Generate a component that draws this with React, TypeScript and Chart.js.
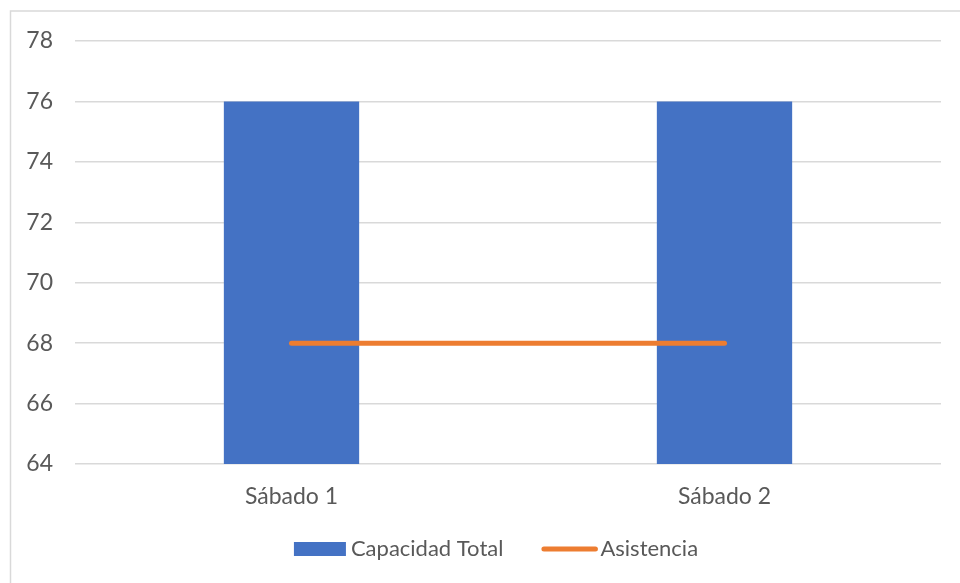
import React, { useEffect, useRef } from "react";
import { Chart, registerables } from "chart.js";

Chart.register(...registerables);

const categories = ["Sábado 1", "Sábado 2"];
const capacidadTotal = [76, 76];
const asistencia = [68, 68];
const yTicks = [64, 66, 68, 70, 72, 74, 76, 78];

const FONT = "Lato, 'Open Sans', sans-serif";
const TEXT_COLOR = "#595959";
const BLUE = "#4472C4";
const ORANGE = "#ED7D31";
const GRID = "#D9D9D9";

// Outer frame of the chart object
const framePlugin = {
  id: "frame",
  beforeDraw(chart: any) {
    const { ctx } = chart;
    ctx.save();
    ctx.fillStyle = "#ffffff";
    ctx.fillRect(0, 0, chart.width, chart.height);
    ctx.strokeStyle = GRID;
    ctx.lineWidth = 1.5;
    ctx.strokeRect(10.5, 11, chart.width + 20, chart.height + 20);
    ctx.restore();
  },
};

// Bottom legend: filled box for the bars, rounded stroke for the line
const legendPlugin = {
  id: "customLegend",
  afterDraw(chart: any) {
    const { ctx } = chart;
    const items = chart.data.datasets.map((ds: any) => ({
      label: ds.label,
      color: ds.type === "line" ? ds.borderColor : ds.backgroundColor,
      isLine: ds.type === "line",
    }));
    ctx.save();
    ctx.font = `22px ${FONT}`;
    ctx.textBaseline = "middle";
    const symW = 52;
    const spacing = 38;
    const gapOf = (it: any) => (it.isLine ? 7 : 5);
    const widths = items.map((it: any) => symW + gapOf(it) + ctx.measureText(it.label).width);
    const total = widths.reduce((a: number, b: number) => a + b, 0) + spacing * (items.length - 1);
    const cy = 549;
    let x = 496 - total / 2;
    items.forEach((it: any, i: number) => {
      if (it.isLine) {
        ctx.strokeStyle = it.color;
        ctx.lineWidth = 5;
        ctx.lineCap = "round";
        ctx.beginPath();
        ctx.moveTo(x + 2.5, cy);
        ctx.lineTo(x + symW + 2, cy);
        ctx.stroke();
      } else {
        ctx.fillStyle = it.color;
        ctx.fillRect(x, cy - 7, symW, 14);
      }
      ctx.fillStyle = TEXT_COLOR;
      ctx.textAlign = "left";
      ctx.fillText(it.label, x + symW + gapOf(it), cy);
      x += widths[i] + spacing;
    });
    ctx.restore();
  },
};

export default function App() {
  const ref = useRef<HTMLCanvasElement | null>(null);

  useEffect(() => {
    if (!ref.current) return;
    const chart = new Chart(ref.current, {
      type: "bar",
      data: {
        labels: categories,
        datasets: [
          {
            type: "bar",
            label: "Capacidad Total",
            data: capacidadTotal,
            backgroundColor: BLUE,
            borderWidth: 0,
            barPercentage: 0.625,
            categoryPercentage: 0.5,
            order: 1,
          } as any,
          {
            type: "line",
            label: "Asistencia",
            data: asistencia,
            borderColor: ORANGE,
            backgroundColor: ORANGE,
            borderWidth: 5,
            borderCapStyle: "round",
            pointRadius: 0,
            pointHoverRadius: 0,
            tension: 0,
            order: 0,
          } as any,
        ],
      },
      options: {
        animation: false,
        responsive: false,
        maintainAspectRatio: false,
        devicePixelRatio: 1,
        layout: { padding: { top: 41, right: 19, bottom: 0, left: 0 } },
        plugins: {
          legend: { display: false },
          tooltip: { enabled: false },
        },
        scales: {
          x: {
            grid: { display: false, drawTicks: false },
            border: { display: false },
            ticks: {
              color: TEXT_COLOR,
              font: { family: FONT, size: 23 },
              padding: 19,
            },
            afterFit: (scale: any) => {
              scale.height = 119;
            },
          },
          y: {
            min: yTicks[0],
            max: yTicks[yTicks.length - 1],
            afterBuildTicks: (scale: any) => {
              scale.ticks = yTicks.map((v) => ({ value: v }));
            },
            grid: { color: GRID, lineWidth: 1.5, drawTicks: false },
            border: { display: false },
            ticks: {
              color: TEXT_COLOR,
              font: { family: FONT, size: 23 },
              padding: 22,
            },
            afterFit: (scale: any) => {
              scale.width = 75;
            },
          },
        },
      },
      plugins: [framePlugin, legendPlugin],
    });
    return () => chart.destroy();
  }, []);

  return (
    <div style={{ position: "absolute", left: 0, top: 0, width: 960, height: 583 }}>
      <canvas ref={ref} width={960} height={583} style={{ display: "block" }} />
    </div>
  );
}
